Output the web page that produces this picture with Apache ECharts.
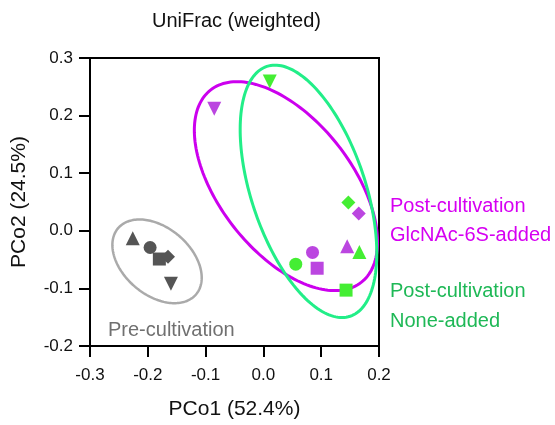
<!DOCTYPE html>
<html>
<head>
<meta charset="utf-8">
<script src="https://cdn.jsdelivr.net/npm/echarts@6/dist/echarts.min.js"></script>
<style>html,body{margin:0;padding:0;background:#fff}#chart{width:555px;height:425px}</style>
</head>
<body>
<div id="chart"></div>
<script>
// ---- data ----
const sampleShapes = ['triangle-up', 'circle', 'square', 'diamond', 'triangle-down'];
const preX  = [-0.226, -0.196, -0.180, -0.165, -0.160];
const preY  = [-0.013, -0.029, -0.049, -0.045, -0.092];
const glcX  = [0.145, 0.085, 0.093, 0.165, -0.085];
const glcY  = [-0.027, -0.0375, -0.065, 0.030, 0.212];
const noneX = [0.166, 0.056, 0.143, 0.147, 0.011];
const noneY = [-0.037, -0.058, -0.103, 0.049, 0.259];

// ellipse parameters (data units): centre, semi-axes, rotation
const ellipseNames = ['Pre-cultivation', 'GlcNAc-6S-added', 'None-added'];
const ellipseCx = [-0.184, 0.039, 0.078];
const ellipseCy = [-0.053, 0.0775, 0.0685];
const ellipseA  = [0.0886, 0.2118, 0.2285];
const ellipseB  = [0.0583, 0.1147, 0.0988];
const ellipseAngle = [-40.5, -52.1, -71.65];

const xTicks = [-0.3, -0.2, -0.1, 0.0, 0.1, 0.2];
const yTicks = [-0.2, -0.1, 0.0, 0.1, 0.2, 0.3];

// ---- styles ----
const FONT = '"Liberation Sans", Arial, Helvetica, sans-serif';
const grayMarker = '#555555', purpleMarker = '#bb46e0', greenMarker = '#44ee33';
const grayLine = '#aaaaaa', purpleLine = '#cc00ee', greenLine = '#22ee88';
const ellipseColors = [grayLine, purpleLine, greenLine];
const ellipseWidths = [2.5, 3, 3];

function pts(xs, ys) {
  return xs.map((x, i) => {
    const s = sampleShapes[i];
    const item = { value: [x, ys[i]] };
    if (s === 'triangle-up') { item.symbol = 'triangle'; item.symbolSize = 14; }
    else if (s === 'triangle-down') { item.symbol = 'triangle'; item.symbolRotate = 180; item.symbolSize = 14; }
    else if (s === 'circle') { item.symbol = 'circle'; item.symbolSize = 13; }
    else if (s === 'square') { item.symbol = 'rect'; item.symbolSize = 13; }
    else { item.symbol = 'diamond'; item.symbolSize = 14; }
    return item;
  });
}

const ellipseData = ellipseNames.map((n, i) => [ellipseCx[i], ellipseCy[i], ellipseA[i], ellipseB[i], ellipseAngle[i], i]);

const chart = echarts.init(document.getElementById('chart'), null, { renderer: 'canvas' });
chart.setOption({
  animation: false,
  backgroundColor: '#ffffff',
  title: {
    text: 'UniFrac (weighted)',
    left: 147, top: 6,
    textStyle: { fontFamily: FONT, fontSize: 20, fontWeight: 'normal', color: '#111' }
  },
  grid: { left: 90, top: 58, right: 176, bottom: 77, show: true, borderColor: '#000', borderWidth: 2 },
  xAxis: {
    type: 'value', min: xTicks[0], max: xTicks[xTicks.length - 1], interval: 0.1,
    name: 'PCo1 (52.4%)', nameLocation: 'middle', nameGap: 53,
    nameTextStyle: { fontFamily: FONT, fontSize: 21, color: '#111' },
    axisLine: { onZero: false, lineStyle: { color: '#000', width: 2 } },
    axisTick: { length: 11, lineStyle: { color: '#000', width: 2 } },
    axisLabel: { fontFamily: FONT, fontSize: 17, color: '#111', margin: 21, formatter: v => v.toFixed(1) },
    splitLine: { show: false }
  },
  yAxis: {
    type: 'value', min: yTicks[0], max: yTicks[yTicks.length - 1], interval: 0.1,
    name: 'PCo2 (24.5%)', nameLocation: 'middle', nameGap: 60, nameRotate: 90,
    nameTextStyle: { fontFamily: FONT, fontSize: 21, color: '#111' },
    axisLine: { onZero: false, lineStyle: { color: '#000', width: 2 } },
    axisTick: { length: 11, lineStyle: { color: '#000', width: 2 } },
    axisLabel: { fontFamily: FONT, fontSize: 17, color: '#111', margin: 17, formatter: v => v.toFixed(1) },
    splitLine: { show: false }
  },
  series: [
    {
      type: 'custom', name: 'ellipses', z: 1, clip: false,
      data: ellipseData,
      encode: { x: 0, y: 1 },
      renderItem: function (params, api) {
        const cx = api.value(0), cy = api.value(1), a = api.value(2), b = api.value(3);
        const th = api.value(4) * Math.PI / 180, idx = api.value(5);
        const points = [];
        for (let k = 0; k < 180; k++) {
          const t = k / 180 * Math.PI * 2;
          const ex = a * Math.cos(t), ey = b * Math.sin(t);
          points.push(api.coord([cx + ex * Math.cos(th) - ey * Math.sin(th), cy + ex * Math.sin(th) + ey * Math.cos(th)]));
        }
        return { type: 'polygon', shape: { points: points }, style: { fill: 'none', stroke: ellipseColors[idx], lineWidth: ellipseWidths[idx] } };
      }
    },
    { type: 'scatter', name: 'Pre-cultivation', z: 3, itemStyle: { color: grayMarker, opacity: 1 }, data: pts(preX, preY) },
    { type: 'scatter', name: 'GlcNAc-6S-added', z: 3, itemStyle: { color: purpleMarker, opacity: 1 }, data: pts(glcX, glcY) },
    { type: 'scatter', name: 'None-added', z: 3, itemStyle: { color: greenMarker, opacity: 1 }, data: pts(noneX, noneY) }
  ],
  graphic: [
    { type: 'text', x: 390, y: 206, style: { text: 'Post-cultivation', fill: '#d600f2', font: '20px ' + FONT, verticalAlign: 'middle' } },
    { type: 'text', x: 390, y: 235, style: { text: 'GlcNAc-6S-added', fill: '#d600f2', font: '20px ' + FONT, verticalAlign: 'middle' } },
    { type: 'text', x: 390, y: 291, style: { text: 'Post-cultivation', fill: '#1eb856', font: '20px ' + FONT, verticalAlign: 'middle' } },
    { type: 'text', x: 390, y: 321, style: { text: 'None-added', fill: '#1eb856', font: '20px ' + FONT, verticalAlign: 'middle' } },
    { type: 'text', x: 108, y: 330, style: { text: 'Pre-cultivation', fill: '#707070', font: '20px ' + FONT, verticalAlign: 'middle' } }
  ]
});
</script>
</body>
</html>
